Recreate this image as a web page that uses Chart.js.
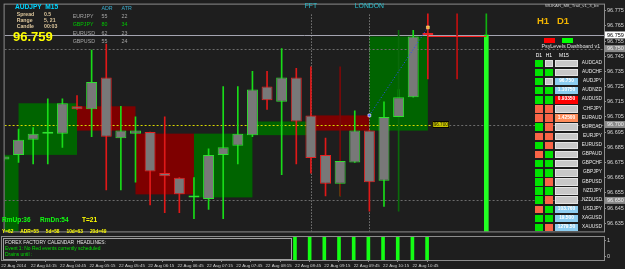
<!DOCTYPE html>
<html>
<head>
<meta charset="utf-8">
<script src="https://cdn.jsdelivr.net/npm/chart.js@4.4.1/dist/chart.umd.min.js"></script>
<style>
html,body{margin:0;padding:0;background:#1e1e1e;}
#wrap{position:relative;width:625px;height:269px;overflow:hidden;background:#1e1e1e;font-family:"Liberation Sans",Arial,sans-serif;}
canvas{position:absolute;left:0;}
.t{position:absolute;white-space:pre;}
.b{position:absolute;box-sizing:border-box;}
</style>
</head>
<body>
<div id="wrap">
  <canvas id="main" width="625" height="236" style="top:0"></canvas>
  <canvas id="ind" width="625" height="33" style="top:236px"></canvas>
</div>
<script>
// ---------------- data ----------------
const timeLabels = ['22 Aug 2014','22 Aug 04:15','22 Aug 04:45','22 Aug 05:15','22 Aug 05:45','22 Aug 06:15','22 Aug 06:45','22 Aug 07:15','22 Aug 07:45','22 Aug 08:15','22 Aug 08:45','22 Aug 09:15','22 Aug 09:45','22 Aug 10:15','22 Aug 10:45'];
const labelIdx = [0,2,4,6,8,10,12,14,16,18,20,22,24,26,28];
const candleIdx = [0,1,2,3,4,5,6,7,8,9,10,11,12,13,14,15,16,17,18,19,20,21,22,23,24,25,26,27,28,29];
const openP  = [96.677,96.680,96.690,96.694,96.694,96.712,96.710,96.731,96.691,96.694,96.695,96.668,96.665,96.652,96.651,96.680,96.686,96.693,96.725,96.715,96.731,96.706,96.680,96.661,96.675,96.696,96.663,96.705,96.718,96.760];
const highP  = [96.680,96.697,96.698,96.717,96.717,96.719,96.749,96.753,96.712,96.705,96.695,96.705,96.665,96.665,96.684,96.725,96.725,96.735,96.735,96.750,96.737,96.738,96.691,96.676,96.709,96.696,96.715,96.723,96.762,96.773];
const lowP   = [96.676,96.675,96.674,96.674,96.685,96.710,96.692,96.657,96.657,96.662,96.647,96.642,96.642,96.638,96.644,96.638,96.674,96.692,96.710,96.667,96.674,96.668,96.653,96.653,96.675,96.643,96.646,96.705,96.718,96.730];
const closeP = [96.679,96.690,96.694,96.694,96.714,96.710,96.728,96.692,96.696,96.696,96.669,96.666,96.654,96.652,96.680,96.685,96.694,96.723,96.716,96.731,96.702,96.678,96.661,96.676,96.696,96.662,96.705,96.718,96.758,96.759];
// H1 body boxes (start candle index, open, close)
const hourStart = [-3,1,5,9,13,17,21,25];
const hourOpen  = [96.620,96.680,96.712,96.694,96.652,96.693,96.706,96.696];
const hourClose = [96.680,96.714,96.696,96.654,96.694,96.702,96.696,96.758];
const priceTicks = [96.775,96.765,96.755,96.745,96.735,96.725,96.715,96.705,96.695,96.685,96.675,96.665,96.655,96.645,96.635];
const bidPrice = 96.759;
const dashedLevels = [96.750,96.650];
const pivotLevel = 96.700;
const pivotLabelIdx = 29.3;
const axisBoxPrices = [96.759,96.750,96.700,96.650];
const sessionIdx = [21,25];
const sessionNames = ['FFT','LONDON'];
const trendIdx = [25,29];
const trendPrice = [96.706,96.764];
const shadowIdx = [23,27];
const shadowLow = [96.653,96.643];
const shadowHigh = [96.738,96.762];
const rangeIdx = [31];
const rangeLow = [96.730];
const rangeHigh = [96.773];
const projIdx = [33];
const projThinLow = [96.759], projThinHigh = [96.773];
const projLow = [96.629], projHigh = [96.759];
const curLineIdx = [29,33];
const curLinePrice = 96.758;
const signalIdx = [20,21,22,23,24,25,26,27,28,29];
const signalVal = [1,1,1,1,1,1,1,1,1,1];
const signalTicks = [0,1];
const xMin = 0.046, xMax = 41.05;
const yMin = 96.6296, yMax = 96.7790;

const dashSymbols = ['AUDCAD','AUDCHF','AUDJPY','AUDNZD','AUDUSD','CHFJPY','EURAUD','EURCAD','EURJPY','EURUSD','GBPAUD','GBPCHF','GBPJPY','GBPUSD','NZDJPY','NZDUSD','USDJPY','XAGUSD','XAUUSD'];
const dashD1 = [1,1,1,1,1,-1,-1,1,-1,1,-1,1,1,1,1,1,-1,1,1];
const dashH1 = [0,1,0,1,1,-1,-1,-1,-1,-1,1,1,1,-1,1,-1,1,1,-1];
const dashM15 = ['','','96.750','1.10750','0.93350','','1.42500','','','','','','','','','','103.760','19.500','1279.50'];
const dashM15State = [0,0,1,1,-1,0,2,0,0,0,0,0,0,0,0,0,1,1,1];

const adrPairs = ['EURJPY','GBPJPY','EURUSD','GBPUSD'];
const adrVals = [55,80,62,55];
const atrVals = [22,34,23,24];

// ---------------- styles ----------------
const BULL = '#2fe02f', BEAR = '#e62222';
const FONT = '"Liberation Sans", Arial, sans-serif';

function hline(ctx,x0,y,x1){ctx.beginPath();ctx.moveTo(x0,y);ctx.lineTo(x1,y);ctx.stroke();}
function vline(ctx,x,y0,y1){ctx.beginPath();ctx.moveTo(x,y0);ctx.lineTo(x,y1);ctx.stroke();}

const mainDecor = {
  id:'mainDecor',
  beforeDatasetsDraw(chart){
    const {ctx, chartArea:a, scales:{x,y}} = chart;
    ctx.save();
    ctx.beginPath(); ctx.rect(a.left,a.top,a.right-a.left,a.bottom-a.top); ctx.clip();
    hourStart.forEach((s,i)=>{
      const x0 = x.getPixelForValue(s), x1 = x.getPixelForValue(s+4);
      const y0 = y.getPixelForValue(hourOpen[i]), y1 = y.getPixelForValue(hourClose[i]);
      ctx.fillStyle = hourClose[i] >= hourOpen[i] ? '#006400' : '#7e0000';
      ctx.fillRect(x0, Math.min(y0,y1), x1-x0, Math.abs(y1-y0));
    });
    ctx.lineWidth = 1;
    ctx.setLineDash([2,2]); ctx.strokeStyle = '#6c6c6c';
    dashedLevels.forEach(p=>{const yy=Math.round(y.getPixelForValue(p))+0.5; hline(ctx,a.left,yy,a.right);});
    const py = Math.round(y.getPixelForValue(pivotLevel))+0.5;
    const px = x.getPixelForValue(pivotLabelIdx);
    ctx.strokeStyle = '#d8d800'; hline(ctx,a.left,py,px);
    ctx.strokeStyle = '#6c6c6c'; hline(ctx,px+17,py,a.right);
    ctx.setLineDash([1,2]); ctx.strokeStyle = '#a8a8a8';
    sessionIdx.forEach(s=>{const xx=Math.round(x.getPixelForValue(s))+0.5; vline(ctx,xx,a.top+10,a.bottom);});
    ctx.setLineDash([]); ctx.strokeStyle = '#a4a4b0';
    const by = Math.round(y.getPixelForValue(bidPrice))+0.5; hline(ctx,a.left,by,a.right);
    ctx.restore();
  },
  afterDraw(chart){
    const {ctx, chartArea:a, scales:{x,y}} = chart;
    ctx.save();
    ctx.strokeStyle = '#8c8c8c'; ctx.lineWidth = 1;
    ctx.strokeRect(a.left-0.5, a.top-0.5, a.right-a.left+1, a.bottom-a.top+1);
    const py = y.getPixelForValue(pivotLevel), px = x.getPixelForValue(pivotLabelIdx);
    ctx.fillStyle = '#c8c400'; ctx.fillRect(px, py-3.5, 17, 7);
    ctx.strokeStyle = '#000'; ctx.strokeRect(px+0.5, py-3, 16, 6);
    ctx.fillStyle = '#202000'; ctx.font = '4.6px '+FONT; ctx.textAlign='center'; ctx.textBaseline='middle';
    ctx.fillText(pivotLevel.toFixed(3), px+8.5, py+0.3);
    ctx.font = '6.8px '+FONT; ctx.fillStyle = '#2cc4d4';
    sessionIdx.forEach((s,i)=>ctx.fillText(sessionNames[i], x.getPixelForValue(s), 6.5));
    ctx.font = '5.5px '+FONT; ctx.textAlign='left';
    axisBoxPrices.forEach((p,i)=>{
      const yy = y.getPixelForValue(p);
      ctx.fillStyle = i===0 ? '#ffffff' : '#8a8a8a';
      ctx.fillRect(a.right+1, yy-3.5, 20, 7);
      ctx.fillStyle = i===0 ? '#000000' : '#eeeeee';
      ctx.fillText(p.toFixed(3), a.right+3, yy+0.3);
    });
    ctx.restore();
  }
};

const indDecor = {
  id:'indDecor',
  afterDraw(chart){
    const {ctx, chartArea:a} = chart;
    ctx.save(); ctx.strokeStyle='#8c8c8c'; ctx.lineWidth=1;
    ctx.strokeRect(a.left-0.5, a.top-0.5, a.right-a.left+1, a.bottom-a.top+1);
    ctx.restore();
  }
};

new Chart(document.getElementById('main'), {
  type:'bar',
  data:{datasets:[
    {type:'line', label:'Trend', data: trendIdx.map((v,i)=>({x:v,y:trendPrice[i]})), borderColor:'#2c4cff', borderWidth:1, borderDash:[1,2],
     pointRadius:2, pointStyle:'rect', pointBackgroundColor:['#3a5aff','#ffa828'], pointBorderColor:['#ffffff','#ffe8a0'], pointBorderWidth:0.6, order:0},
    {type:'line', label:'Current', data: curLineIdx.map(v=>({x:v,y:curLinePrice})), borderColor:'#ff2020', borderWidth:1, pointRadius:0, order:1},
    {label:'Bodies', data: candleIdx.map(i=>({x:i,y:[openP[i],closeP[i]]})), backgroundColor:'#787878',
     borderColor: candleIdx.map(i=>closeP[i]>=openP[i]?BULL:BEAR), borderWidth:1, borderSkipped:false,
     barPercentage:0.75, categoryPercentage:1, minBarLength:2, grouped:false, order:2},
    {label:'Shadows', data: shadowIdx.map((v,i)=>({x:v,y:[shadowLow[i],shadowHigh[i]]})), backgroundColor:['#7a0a0a','#0a6a0a'], barThickness:1, grouped:false, order:3},
    {label:'Wicks', data: candleIdx.map(i=>({x:i,y:[lowP[i],highP[i]]})), backgroundColor: candleIdx.map(i=>closeP[i]>=openP[i]?'#18dc18':'#e01818'), barThickness:1, grouped:false, order:4},
    {label:'Range', data: rangeIdx.map((v,i)=>({x:v,y:[rangeLow[i],rangeHigh[i]]})), backgroundColor:'#c01010', barThickness:1, grouped:false, order:5},
    {label:'ProjThin', data: projIdx.map((v,i)=>({x:v,y:[projThinLow[i],projThinHigh[i]]})), backgroundColor:'#10b010', barThickness:1, grouped:false, order:6},
    {label:'Projection', data: projIdx.map((v,i)=>({x:v,y:[projLow[i],projHigh[i]]})), backgroundColor:'#22ff22', barThickness:4, grouped:false, order:7}
  ]},
  options:{
    responsive:false, animation:false, devicePixelRatio:1,
    layout:{padding:{left:2,top:2,right:0,bottom:1}},
    plugins:{legend:{display:false}, tooltip:{enabled:false}},
    scales:{
      x:{type:'linear', min:xMin, max:xMax, display:false, offset:false},
      y:{type:'linear', position:'right', min:yMin, max:yMax, beginAtZero:false,
         afterBuildTicks:s=>{s.ticks = priceTicks.map(v=>({value:v}));},
         afterFit:s=>{s.width=21; s.paddingTop=0; s.paddingBottom=0;},
         ticks:{callback:v=>Number(v).toFixed(3), color:'#d4d4d4', font:{size:5.5, family:FONT}, padding:1, autoSkip:false},
         grid:{drawOnChartArea:false, tickLength:2, color:'#909090'},
         border:{display:true, color:'#909090'}}
    }
  },
  plugins:[mainDecor]
});

new Chart(document.getElementById('ind'), {
  type:'bar',
  data:{datasets:[
    {label:'Signal', data: signalIdx.map((v,i)=>({x:v,y:signalVal[i]})), backgroundColor:'#14ff14', barThickness:3, grouped:false, yAxisID:'y'}
  ]},
  options:{
    responsive:false, animation:false, devicePixelRatio:1,
    layout:{padding:{left:2,top:1,right:0,bottom:0}},
    plugins:{legend:{display:false}, tooltip:{enabled:false}},
    scales:{
      x:{type:'linear', min:xMin, max:xMax, offset:false, position:'bottom',
         afterBuildTicks:s=>{s.ticks = labelIdx.map(v=>({value:v}));},
         afterFit:s=>{s.height=9; s.paddingLeft=0; s.paddingRight=0;},
         ticks:{callback:(v,i)=>timeLabels[i], align:'start', autoSkip:false, maxRotation:0, minRotation:0, padding:1,
                color:'#d0d0d0', font:{size:4.4, family:FONT}},
         grid:{drawOnChartArea:false, tickLength:2, color:'#909090'},
         border:{display:true, color:'#909090'}},
      y:{display:false, min:0, max:1},
      y1:{type:'linear', position:'right', min:-0.18, max:1.18,
          afterBuildTicks:s=>{s.ticks = signalTicks.map(v=>({value:v}));},
          afterFit:s=>{s.width=21; s.paddingTop=0; s.paddingBottom=0;},
          ticks:{color:'#d0d0d0', font:{size:5.5, family:FONT}, padding:1},
          grid:{drawOnChartArea:false, tickLength:2, color:'#909090'},
          border:{display:true, color:'#909090'}}
    }
  },
  plugins:[indDecor]
});

// ---------------- text overlays ----------------
const wrap = document.getElementById('wrap');
function txt(s, x, cy, size, color, bold, align){
  const d = document.createElement('div');
  d.className = 't'; d.textContent = s;
  d.style.fontSize = size+'px'; d.style.lineHeight = size+'px'; d.style.color = color;
  d.style.top = (cy - size/2)+'px';
  if (bold) d.style.fontWeight = 'bold';
  if (align === 'right') d.style.right = (625 - x)+'px';
  else if (align === 'center') { d.style.left = x+'px'; d.style.transform = 'translateX(-50%)'; }
  else d.style.left = x+'px';
  wrap.appendChild(d);
  return d;
}
function rect(x,y,w,h,bg,border){
  const d = document.createElement('div');
  d.className='b';
  Object.assign(d.style,{left:x+'px',top:y+'px',width:w+'px',height:h+'px',background:bg});
  if (border) d.style.border = '1px solid '+border;
  wrap.appendChild(d);
  return d;
}

txt('AUDJPY  M15', 15, 7.5, 6.6, '#00d4ff', true);
const infoC = '#dcc69c';
[['Spread','0.5',14.7],['Range','5, 21',21],['Candle','00:03',26.7]].forEach(r=>{
  txt(r[0], 16.7, r[2], 5.2, infoC, true); txt(r[1], 44, r[2], 5.2, infoC, true);
});
txt('96.759', 13, 36.2, 13, '#ffff00', true);
txt('ADR', 101.5, 8.3, 5.3, '#3aaed0'); txt('ATR', 121.5, 8.3, 5.3, '#3aaed0');
[17,25,33.2,41.7].forEach((cy,i)=>{
  const c = i===1 ? '#00c800' : '#a6a6a6';
  txt(adrPairs[i], 72.7, cy, 5.3, c); txt(String(adrVals[i]), 101.5, cy, 5.3, c); txt(String(atrVals[i]), 121.5, cy, 5.3, c);
});

txt('WUKAR_M8_Trail_v1_3_be', 545, 5.7, 4.3, '#d0d0d0');
txt('H1', 537, 20.5, 9.5, '#f2b400', true);
txt('D1', 557, 20.5, 9.5, '#f2b400', true);
rect(544, 38, 11, 5, '#ff0000');
rect(562, 38, 11, 5, '#00ff00');
txt('PsyLevels Dashboard v1', 541.5, 47, 5.3, '#e0e0e0');
txt('D1', 535.7, 55, 5, '#ffffff'); txt('H1', 545.7, 55, 5, '#ffffff'); txt('M15', 559, 55, 5, '#ffffff');
const stC = {1:'#00e400','-1':'#fa6446',0:'#c4c4c4'};
const m15C = {0:'#c8c8c8',1:'#8ccdf0','-1':'#ff0000',2:'#ff8c5a'};
dashSymbols.forEach((s,i)=>{
  const top = 59.5 + 9.13*i;
  rect(535, top, 8, 7.5, stC[dashD1[i]]);
  rect(545, top, 8, 7.5, stC[dashH1[i]], dashH1[i]===0 ? '#e0e0e0' : null);
  rect(555, top, 23, 7.5, m15C[dashM15State[i]], dashM15State[i]===0 ? '#e4e4e4' : null);
  if (dashM15[i]) txt(dashM15[i], 566.5, top+3.8, 4.8, '#ffffff', true, 'center');
  txt(s, 602, top+3.8, 4.8, '#e8e8e8', false, 'right');
});

txt('RmUp:36', 2, 220, 6.5, '#10ff10', true);
txt('RmDn:54', 40, 220, 6.5, '#10ff10', true);
txt('T=21', 82, 220, 6.5, '#ffff00', true);
[['Y=62',2],['ADR=55',20.3],['5d=58',45.8],['10d=63',66.5],['20d=49',89.9]].forEach(r=>txt(r[0], r[1], 232, 4.8, '#ffff00', true));

rect(3, 237.5, 289, 22, '#1e1e1e', '#a0a0a0');
txt('FOREX FACTORY CALENDAR  HEADLINES:', 5, 243, 4.9, '#e4e4e4');
txt('Event 1: No Red events currently scheduled', 5, 249, 4.9, '#00e000');
txt('Drains until :', 5, 255, 4.9, '#00e000');
</script>
</body>
</html>
